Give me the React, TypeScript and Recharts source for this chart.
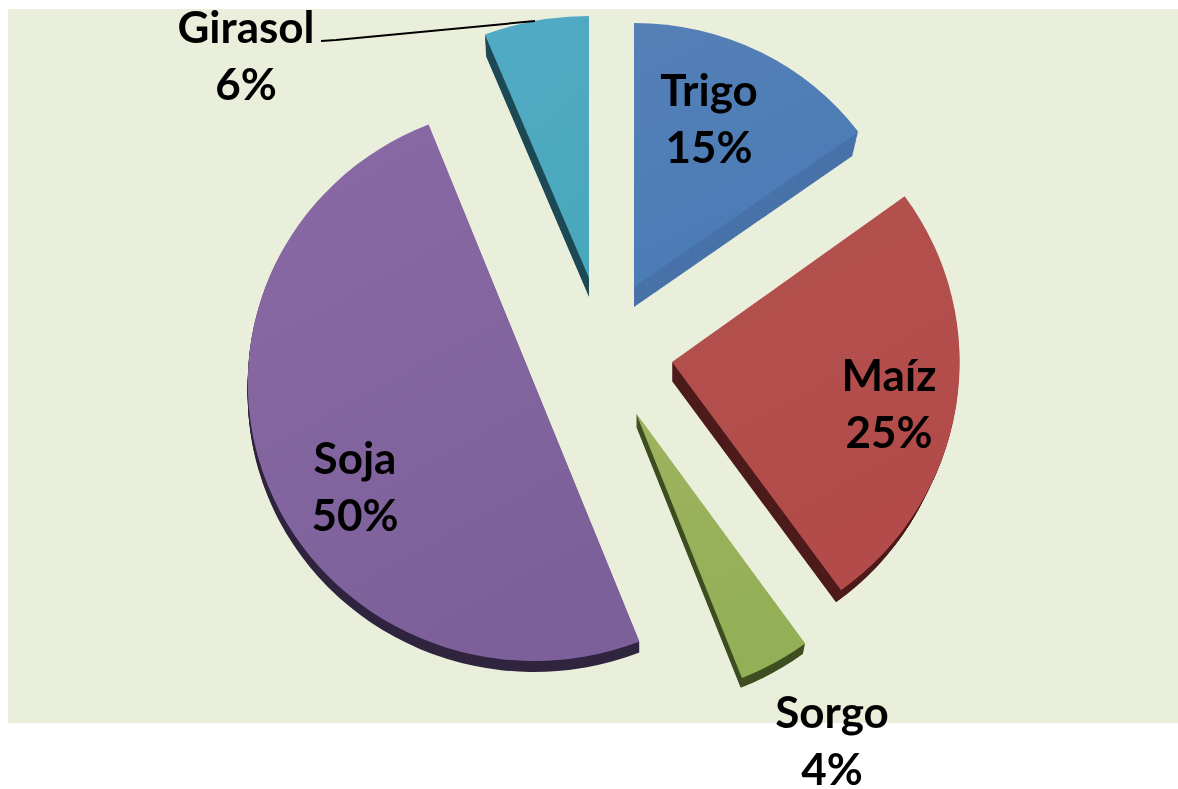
import React from "react";
import { PieChart, Pie, Sector } from "recharts";

const cultivos = ["Trigo", "Maíz", "Sorgo", "Soja", "Girasol"];
const porcentajes = [15, 25, 4, 50, 6];

// slice look, same order as cultivos
const topColors = [
  ["#5580B6", "#4A7BB6"],
  ["#B2524F", "#B24B49"],
  ["#A0B25E", "#92B056"],
  ["#8A6AA6", "#7D6099"],
  ["#52AAC6", "#4AA8BC"],
];
const sideColors = ["#4873A9", "#4E1C1C", "#3F4F22", "#30253F", "#1F4A56"];

// pulled-out position of each slice relative to the pie centre, its radius and its 3D look
const PIE_CX = 590;
const PIE_CY = 350;
const offsets = [
  [44, -63],
  [82, 12],
  [46, 63],
  [-56, 33],
  [-1, -72],
];
const radii = [264, 282, 285, 278, 262];
const stretchX = [1.05, 1.02, 1.01, 1.03, 1.08];
const depths = [20, 19, 13, 11, 19];
const shrinks = [0.975, 0.97, 0.988, 1, 0.99];

const labelSpots = [
  [709, 106],
  [889, 391],
  [832, 728],
  [355, 474],
  [246, 43],
];
const LINE_GAP = 57;
const leader = "M321 41 L336 40 L535 21";

const chartData = cultivos.map((name, i) => ({ name, value: porcentajes[i] }));

function Slice(props: any) {
  const i = cultivos.indexOf(props.payload?.name ?? props.name);
  const cx = PIE_CX + offsets[i][0];
  const cy = PIE_CY + offsets[i][1];
  const angles = { startAngle: props.startAngle, endAngle: props.endAngle, innerRadius: 0 };
  const steps = Array.from({ length: depths[i] }, (_, k) => depths[i] - k);
  return (
    <g transform={`translate(${cx} 0) scale(${stretchX[i]} 1) translate(${-cx} 0)`}>
      {steps.map((k) => (
        <Sector
          key={k}
          {...angles}
          cx={cx}
          cy={cy + k}
          outerRadius={radii[i] * (1 - ((1 - shrinks[i]) * k) / depths[i])}
          fill={sideColors[i]}
          stroke="none"
        />
      ))}
      <Sector {...angles} cx={cx} cy={cy} outerRadius={radii[i]} fill={`url(#cara${i})`} stroke="none" />
    </g>
  );
}

function SliceLabel(props: any) {
  const i = props.index;
  const [x, y] = labelSpots[i];
  return (
    <g>
      {cultivos[i] === "Girasol" && (
        <path d={leader} fill="none" stroke="#000000" strokeWidth={2} />
      )}
      <text
        x={x}
        y={y}
        textAnchor="middle"
        fontFamily="Lato, sans-serif"
        fontWeight={700}
        fontSize={44}
        fill="#000000"
      >
        {cultivos[i]}
      </text>
      <text
        x={x}
        y={y + LINE_GAP}
        textAnchor="middle"
        fontFamily="Lato, sans-serif"
        fontWeight={700}
        fontSize={44}
        fill="#000000"
      >
        {porcentajes[i]}%
      </text>
    </g>
  );
}

export default function App() {
  return (
    <div style={{ position: "fixed", left: 0, top: 0, width: 1178, height: 789, overflow: "hidden" }}>
      <div
        style={{
          position: "absolute",
          left: 8,
          top: 9,
          width: 1170,
          height: 714,
          background: "#EAEFDC",
        }}
      />
      <div style={{ position: "absolute", left: 0, top: 0 }}>
        <PieChart width={1178} height={789} margin={{ top: 0, right: 0, bottom: 0, left: 0 }}>
          <defs>
            {topColors.map((c, i) => (
              <linearGradient key={i} id={`cara${i}`} x1="0" y1="0" x2="0.4" y2="1">
                <stop offset="0%" stopColor={c[0]} />
                <stop offset="100%" stopColor={c[1]} />
              </linearGradient>
            ))}
          </defs>
          <Pie
            data={chartData}
            dataKey="value"
            nameKey="name"
            cx={PIE_CX}
            cy={PIE_CY}
            outerRadius={282}
            startAngle={90}
            endAngle={-270}
            paddingAngle={0}
            shape={Slice}
            label={SliceLabel}
            labelLine={false}
            isAnimationActive={false}
          />
        </PieChart>
      </div>
    </div>
  );
}
